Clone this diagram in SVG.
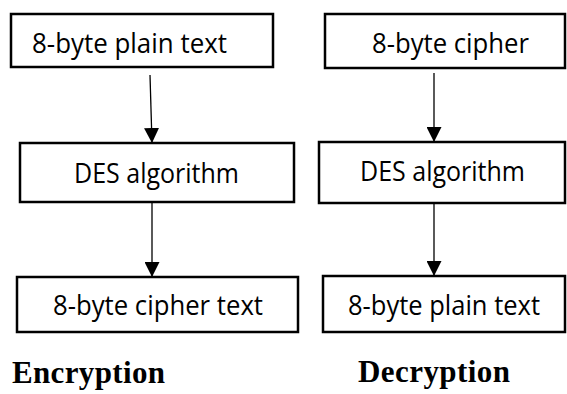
<svg xmlns="http://www.w3.org/2000/svg" width="567" height="394" viewBox="0 0 567 394">
<style>
.box{fill:#fff;stroke:#000;stroke-width:2.5}
.t{font-family:"Open Sans","Liberation Sans",Arial,sans-serif;font-size:28px;fill:#000}
.lbl{font-family:"Liberation Serif","Times New Roman",serif;font-size:31px;font-weight:bold;fill:#000}
.c{stroke:#000;stroke-width:1.3;fill:none;marker-end:url(#ah)}
</style>
<defs>
<marker id="ah" markerUnits="userSpaceOnUse" markerWidth="16" markerHeight="15" refX="15" refY="7.5" orient="auto">
<path d="M0,0 L15,7.5 L0,15 Z" fill="#000"/>
</marker>
</defs>
<rect width="567" height="394" fill="#fff"/>
<g id="connectors">
<line class="c" x1="150" y1="75" x2="152" y2="143"/>
<line class="c" x1="152" y1="202" x2="152" y2="277"/>
<line class="c" x1="434" y1="73" x2="434" y2="142"/>
<line class="c" x1="434" y1="204" x2="434" y2="276"/>
</g>
<g id="enc-plain">
<rect class="box" x="11" y="14" width="262" height="53"/>
<text class="t" x="32" y="53" textLength="195" lengthAdjust="spacingAndGlyphs">8-byte plain text</text>
</g>
<g id="enc-des">
<rect class="box" x="20" y="143" width="274" height="59"/>
<text class="t" x="74" y="183" textLength="165" lengthAdjust="spacingAndGlyphs">DES algorithm</text>
</g>
<g id="enc-cipher">
<rect class="box" x="17" y="277" width="281" height="55"/>
<text class="t" x="53" y="315" textLength="210" lengthAdjust="spacingAndGlyphs">8-byte cipher text</text>
</g>
<g id="dec-cipher">
<rect class="box" x="325" y="14" width="240" height="54"/>
<text class="t" x="372" y="53" textLength="157" lengthAdjust="spacingAndGlyphs">8-byte cipher</text>
</g>
<g id="dec-des">
<rect class="box" x="319" y="142" width="246" height="61"/>
<text class="t" x="360" y="181" textLength="165" lengthAdjust="spacingAndGlyphs">DES algorithm</text>
</g>
<g id="dec-plain">
<rect class="box" x="323" y="276" width="242" height="56"/>
<text class="t" x="348" y="315" textLength="192" lengthAdjust="spacingAndGlyphs">8-byte plain text</text>
</g>
<g id="labels">
<text class="lbl" x="12" y="383" textLength="153">Encryption</text>
<text class="lbl" x="358" y="382" textLength="152">Decryption</text>
</g>
</svg>
